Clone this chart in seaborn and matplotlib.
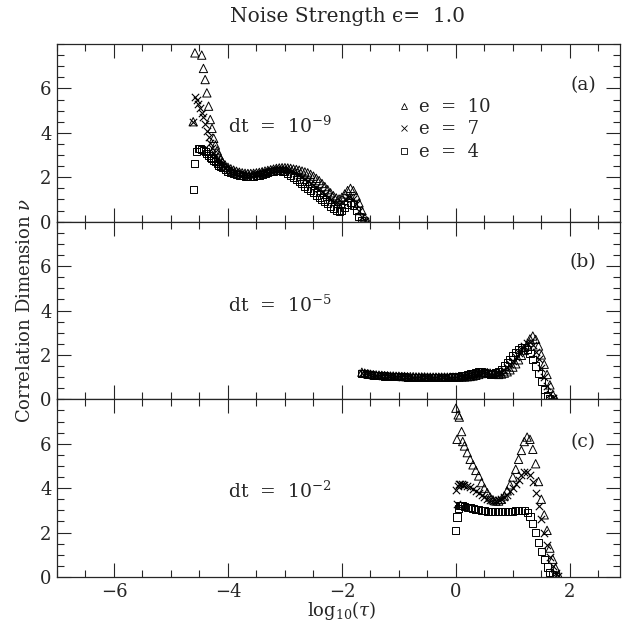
import matplotlib
matplotlib.use("Agg")
import matplotlib.pyplot as plt
from matplotlib.lines import Line2D
from matplotlib.ticker import MultipleLocator
import numpy as np
import seaborn as sns

nan = np.nan

# ---- panel (a): dt = 1e-9 ----
x_a = [-4.61, -4.58, -4.55, -4.52, -4.49, -4.46, -4.43, -4.40, -4.37, -4.34,
       -4.31, -4.28, -4.25, -4.22, -4.19, -4.16, -4.13, -4.10, -4.05, -4.00,
       -3.95, -3.90, -3.85, -3.80, -3.75, -3.70, -3.65, -3.60, -3.55, -3.50,
       -3.45, -3.40, -3.35, -3.30, -3.25, -3.20, -3.15, -3.10, -3.05, -3.00,
       -2.95, -2.90, -2.85, -2.80, -2.75, -2.70, -2.65, -2.60, -2.55, -2.50,
       -2.45, -2.40, -2.35, -2.30, -2.25, -2.20, -2.15, -2.10, -2.05, -2.00,
       -1.95, -1.90, -1.85, -1.80, -1.75, -1.70, -1.65, -1.60, -1.55]
a_e10 = [4.5, 7.6, nan, nan, nan, 7.5, 6.9, 6.4, 5.8, 5.2,
         4.6, 4.2, 3.75, 3.45, 3.2, 3.0, 2.85, 2.7, 2.55, 2.45,
         2.38, 2.32, 2.27, 2.23, 2.2, 2.18, 2.17, 2.17, 2.18, 2.2,
         2.22, 2.25, 2.28, 2.31, 2.34, 2.37, 2.4, 2.42, 2.43, 2.43,
         2.42, 2.4, 2.37, 2.35, 2.32, 2.28, 2.24, 2.2, 2.13, 2.05,
         1.95, 1.85, 1.72, 1.58, 1.44, 1.3, 1.17, 1.07, 1.02, 1.1,
         1.25, 1.4, 1.5, 1.4, 1.15, 0.85, 0.5, 0.18, 0.02]
a_e7 = [4.5, 5.6, 5.5, 5.3, 5.1, 4.9, 4.7, 4.4, 4.1, 3.8,
        3.55, 3.3, 3.1, 2.95, 2.8, 2.7, 2.6, 2.5, 2.4, 2.32,
        2.26, 2.22, 2.18, 2.15, 2.13, 2.12, 2.11, 2.11, 2.12, 2.14,
        2.16, 2.19, 2.22, 2.25, 2.28, 2.31, 2.34, 2.36, 2.36, 2.35,
        2.32, 2.28, 2.23, 2.17, 2.1, 2.02, 1.93, 1.84, 1.75, 1.65,
        1.55, 1.45, 1.35, 1.24, 1.12, 1.0, 0.9, 0.82, 0.8, 0.88,
        1.0, 1.1, 1.12, 1.0, 0.78, 0.5, 0.22, 0.04, nan]
a_e4 = [1.45, 2.6, 3.15, 3.3, 3.3, 3.25, 3.2, 3.15, 3.05, 3.0,
        2.9, 2.85, 2.75, 2.7, 2.6, 2.55, 2.5, 2.45, 2.35, 2.28,
        2.22, 2.17, 2.13, 2.1, 2.07, 2.05, 2.04, 2.04, 2.05, 2.07,
        2.1, 2.13, 2.17, 2.2, 2.24, 2.27, 2.3, 2.3, 2.28, 2.24,
        2.18, 2.1, 2.0, 1.9, 1.8, 1.7, 1.6, 1.5, 1.4, 1.3,
        1.2, 1.1, 1.0, 0.9, 0.8, 0.7, 0.6, 0.52, 0.47, 0.5,
        0.62, 0.78, 0.88, 0.75, 0.5, 0.25, 0.06, nan, nan]

# ---- panel (b): dt = 1e-5 ----
x_b = [-1.65, -1.60, -1.55, -1.50, -1.45, -1.40, -1.35, -1.30, -1.25, -1.20,
       -1.15, -1.10, -1.05, -1.00, -0.95, -0.90, -0.85, -0.80, -0.75, -0.70,
       -0.65, -0.60, -0.55, -0.50, -0.45, -0.40, -0.35, -0.30, -0.25, -0.20,
       -0.15, -0.10, -0.05, 0.00, 0.05, 0.10, 0.15, 0.20, 0.25, 0.30,
       0.35, 0.40, 0.45, 0.50, 0.55, 0.60, 0.65, 0.70, 0.75, 0.80,
       0.85, 0.90, 0.95, 1.00, 1.05, 1.10, 1.15, 1.20, 1.25, 1.30,
       1.35, 1.40, 1.45, 1.50, 1.55, 1.60, 1.65, 1.70, 1.75]
b_e10 = [1.22, 1.18, 1.15, 1.13, 1.11, 1.1, 1.09, 1.08, 1.07, 1.06,
         1.05, 1.05, 1.04, 1.04, 1.03, 1.03, 1.02, 1.02, 1.02, 1.01,
         1.01, 1.01, 1.01, 1.0, 1.0, 1.0, 1.0, 1.0, 1.0, 1.0,
         1.0, 1.0, 1.0, 1.0, 1.0, 1.01, 1.01, 1.02, 1.03, 1.05,
         1.08, 1.12, 1.16, 1.19, 1.2, 1.18, 1.15, 1.13, 1.12, 1.14,
         1.18, 1.24, 1.33, 1.45, 1.6, 1.78, 1.98, 2.2, 2.45, 2.72,
         2.85, 2.7, 2.4, 2.0, 1.58, 1.12, 0.65, 0.22, 0.02]
b_e7 = [1.2, 1.17, 1.14, 1.12, 1.1, 1.09, 1.08, 1.07, 1.06, 1.05,
        1.04, 1.04, 1.03, 1.03, 1.02, 1.02, 1.01, 1.01, 1.01, 1.0,
        1.0, 1.0, 1.0, 1.0, 0.99, 0.99, 0.99, 0.99, 0.99, 0.99,
        1.0, 1.0, 1.0, 1.0, 1.01, 1.02, 1.03, 1.05, 1.08, 1.12,
        1.16, 1.2, 1.22, 1.22, 1.19, 1.16, 1.14, 1.14, 1.17, 1.23,
        1.32, 1.44, 1.58, 1.73, 1.9, 2.07, 2.25, 2.42, 2.55, 2.58,
        2.45, 2.15, 1.8, 1.4, 1.0, 0.6, 0.25, 0.04, nan]
b_e4 = [1.18, 1.15, 1.13, 1.11, 1.09, 1.08, 1.07, 1.06, 1.05, 1.04,
        1.03, 1.03, 1.02, 1.02, 1.01, 1.01, 1.0, 1.0, 1.0, 1.0,
        0.99, 0.99, 0.99, 0.99, 0.99, 0.99, 0.99, 0.99, 0.99, 1.0,
        1.0, 1.0, 1.01, 1.02, 1.03, 1.05, 1.07, 1.1, 1.14, 1.18,
        1.22, 1.24, 1.23, 1.2, 1.16, 1.14, 1.15, 1.2, 1.25, 1.35,
        1.5, 1.65, 1.8, 1.95, 2.1, 2.25, 2.33, 2.35, 2.25, 2.05,
        1.8, 1.5, 1.15, 0.8, 0.45, 0.15, 0.02, nan, nan]

# ---- panel (c): dt = 1e-2 ----
x_c = [0.00, 0.02, 0.04, 0.06, 0.08, 0.10, 0.12, 0.15, 0.20, 0.25,
       0.30, 0.35, 0.40, 0.45, 0.50, 0.55, 0.60, 0.65, 0.70, 0.75,
       0.80, 0.85, 0.90, 0.95, 1.00, 1.05, 1.10, 1.15, 1.20, 1.25,
       1.30, 1.35, 1.40, 1.45, 1.50, 1.55, 1.60, 1.65, 1.70, 1.75,
       1.80]
c_e10 = [7.6, 6.2, 7.3, 7.2, nan, 6.55, 6.1, 5.9, 5.6, 5.3,
         5.05, 4.8, 4.55, 4.25, 4.0, 3.8, 3.6, 3.48, 3.42, 3.42,
         3.5, 3.65, 3.88, 4.15, 4.5, 4.85, 5.3, 5.7, 6.1, 6.3,
         6.2, 5.75, 5.1, 4.3, 3.5, 2.8, 2.1, 1.3, 0.8, 0.4,
         0.1]
c_e7 = [3.9, 3.3, 4.1, 4.2, 4.18, 4.17, 4.15, 4.15, 4.12, 4.05,
        3.98, 3.88, 3.8, 3.7, 3.6, 3.52, 3.47, 3.44, 3.43, 3.45,
        3.5, 3.58, 3.7, 3.85, 4.0, 4.18, 4.38, 4.58, 4.72, 4.75,
        4.6, 4.3, 3.8, 3.2, 2.6, 2.0, 1.45, 0.9, 0.5, 0.2,
        0.05]
c_e4 = [2.1, 2.7, 3.1, 3.2, 3.22, 3.22, 3.2, 3.18, 3.15, 3.12,
        3.09, 3.06, 3.03, 3.0, 2.98, 2.96, 2.95, 2.94, 2.93, 2.93,
        2.93, 2.94, 2.95, 2.96, 2.97, 2.98, 3.0, 3.0, 2.98, 2.9,
        2.72, 2.4, 2.0, 1.55, 1.15, 0.8, 0.45, 0.22, 0.1, 0.04,
        nan]

panel_labels = ["(a)", "(b)", "(c)"]
dt_labels = ["dt  =  10$^{-9}$", "dt  =  10$^{-5}$", "dt  =  10$^{-2}$"]
legend_labels = ["e  =  10", "e  =  7", "e  =  4"]

sns.set_style("ticks")
plt.rcParams.update({
    "font.family": ["DejaVu Serif"],
    "mathtext.fontset": "dejavuserif",
    "font.size": 13,
    "axes.linewidth": 0.9,
    "xtick.direction": "in",
    "ytick.direction": "in",
})

fig, axes = plt.subplots(3, 1, sharex=True, figsize=(6.26, 6.24), dpi=100)
fig.subplots_adjust(left=57 / 626, right=620 / 626, top=1 - 44 / 624,
                    bottom=1 - 577 / 624, hspace=0)


def draw_panel(ax, x, y10, y7, y4):
    sns.scatterplot(x=x, y=y10, marker="^", s=36, color="black",
                    facecolor="none", edgecolor="black", linewidth=0.7, ax=ax)
    sns.scatterplot(x=x, y=y7, marker="x", s=28, color="black",
                    linewidth=0.8, ax=ax)
    sns.scatterplot(x=x, y=y4, marker="s", s=26, color="black",
                    facecolor="none", edgecolor="black", linewidth=0.7, ax=ax)


panels = [(x_a, a_e10, a_e7, a_e4), (x_b, b_e10, b_e7, b_e4), (x_c, c_e10, c_e7, c_e4)]
dt_y = [4.28, 4.26, 3.85]
lab_y = [6.17, 6.19, 6.08]

for i, ax in enumerate(axes):
    draw_panel(ax, *panels[i])
    ax.set_xlim(-7, 2.88)
    ax.set_ylim(0, 8)
    ax.set_yticks([0, 2, 4, 6])
    ax.xaxis.set_major_locator(MultipleLocator(2))
    ax.xaxis.set_minor_locator(MultipleLocator(0.5))
    ax.yaxis.set_minor_locator(MultipleLocator(0.5))
    ax.tick_params(which="both", direction="in", top=True, right=True,
                   width=0.8, labelsize=13, pad=4)
    ax.tick_params(which="major", length=10)
    ax.tick_params(which="minor", length=5)
    ax.set_xlabel("")
    ax.set_ylabel("")
    ax.text(-4.0, dt_y[i], dt_labels[i], ha="left", va="center", fontsize=13.5)
    ax.text(2.23, lab_y[i], panel_labels[i], ha="center", va="center", fontsize=13.5)

# legend in panel (a)
handles = [
    Line2D([], [], marker="^", linestyle="none", markersize=4.5,
           markerfacecolor="none", markeredgecolor="black", markeredgewidth=0.6),
    Line2D([], [], marker="x", linestyle="none", markersize=4,
           color="black", markeredgewidth=0.6),
    Line2D([], [], marker="s", linestyle="none", markersize=3.8,
           markerfacecolor="none", markeredgecolor="black", markeredgewidth=0.6),
]
axes[0].legend(handles, legend_labels, loc="upper left",
               bbox_to_anchor=(-1.03, 5.57), bbox_transform=axes[0].transData,
               frameon=False, fontsize=13, handlelength=0.8,
               handletextpad=0.4, labelspacing=0.25, borderpad=0,
               borderaxespad=0)

fig.text(342 / 626, 1 - 611 / 624, "log$_{10}$($\\tau$)",
         ha="center", va="center", fontsize=13)
fig.text(25 / 626, 1 - 310 / 624, "Correlation Dimension $\\nu$",
         rotation=90, ha="center", va="center", fontsize=13)
fig.text(347 / 626, 1 - 16 / 624, "Noise Strength \u03f5=  1.0",
         ha="center", va="center", fontsize=14.5)

plt.savefig("out.png", dpi=100)
plt.close()
